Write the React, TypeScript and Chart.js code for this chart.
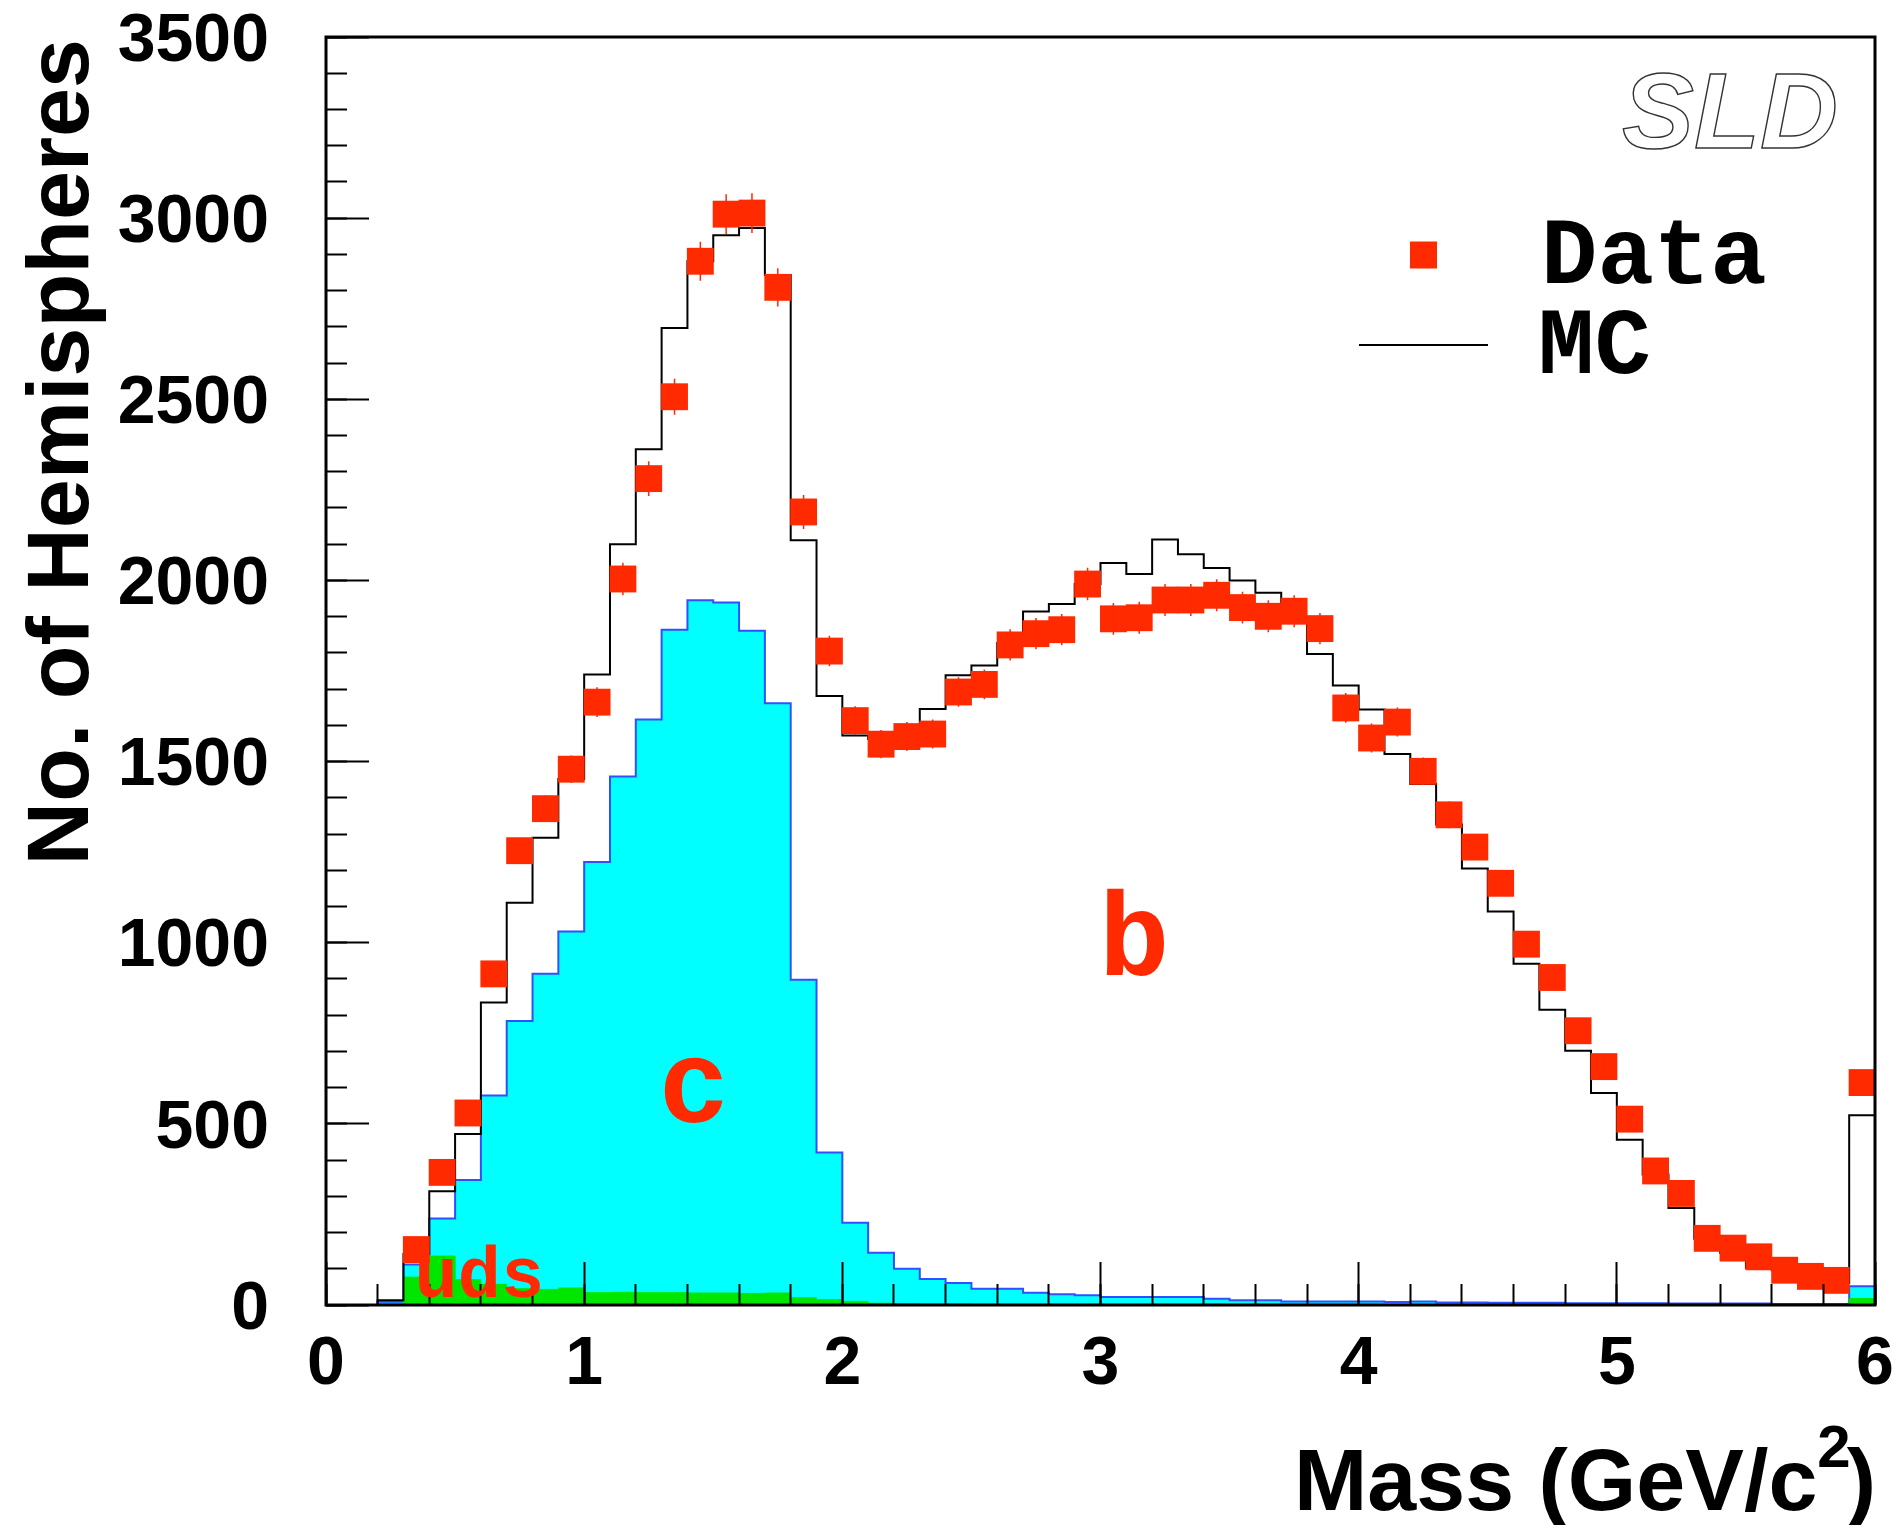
import React, { useEffect, useRef } from 'react';
import { Chart, registerables } from 'chart.js';

Chart.register(...registerables);

// ---------- data ----------
// histogram bin edges (GeV/c^2), 60 bins of 0.1
const binEdges = [
  0.0, 0.1, 0.2, 0.3, 0.4, 0.5, 0.6, 0.7, 0.8, 0.9,
  1.0, 1.1, 1.2, 1.3, 1.4, 1.5, 1.6, 1.7, 1.8, 1.9,
  2.0, 2.1, 2.2, 2.3, 2.4, 2.5, 2.6, 2.7, 2.8, 2.9,
  3.0, 3.1, 3.2, 3.3, 3.4, 3.5, 3.6, 3.7, 3.8, 3.9,
  4.0, 4.1, 4.2, 4.3, 4.4, 4.5, 4.6, 4.7, 4.8, 4.9,
  5.0, 5.1, 5.2, 5.3, 5.4, 5.5, 5.6, 5.7, 5.8, 5.9,
  6.0,
];

// MC total (b + c + uds)
const mcTotal = [
  0, 0, 13, 141, 314, 472, 835, 1110, 1290, 1452,
  1740, 2100, 2362, 2697, 2881, 2953, 2973, 2843, 2111, 1681,
  1572, 1562, 1562, 1645, 1738, 1765, 1827, 1914, 1935, 1990,
  2048, 2018, 2113, 2072, 2034, 2000, 1966, 1894, 1797, 1710,
  1644, 1521, 1438, 1326, 1205, 1086, 942, 815, 702, 585,
  456, 360, 268, 183, 144, 103, 96, 72, 61, 524,
];

// MC c + uds
const mcCharmUds = [
  0, 0, 9, 112, 239, 345, 578, 784, 914, 1031,
  1223, 1459, 1616, 1864, 1945, 1939, 1861, 1661, 898, 421,
  227, 144, 100, 72, 61, 45, 45, 34, 30, 27,
  22, 22, 22, 22, 17, 13, 13, 10, 10, 10,
  10, 8, 10, 7, 7, 6, 6, 6, 5, 5,
  5, 5, 4, 4, 4, 4, 3, 3, 3, 52,
];

// MC uds
const mcUds = [
  0, 0, 3, 77, 135, 70, 57, 45, 43, 47,
  34, 35, 34, 34, 33, 33, 32, 33, 20, 15,
  10, 5, 4, 3, 3, 2, 2, 2, 2, 2,
  2, 2, 2, 2, 2, 2, 2, 2, 2, 2,
  1, 1, 1, 1, 1, 1, 1, 1, 1, 1,
  1, 1, 1, 1, 1, 1, 1, 1, 1, 18,
];

// Data points (bin centres)
const dataMass = [
  0.35, 0.45, 0.55, 0.65, 0.75, 0.85, 0.95, 1.05, 1.15, 1.25,
  1.35, 1.45, 1.55, 1.65, 1.75, 1.85, 1.95, 2.05, 2.15, 2.25,
  2.35, 2.45, 2.55, 2.65, 2.75, 2.85, 2.95, 3.05, 3.15, 3.25,
  3.35, 3.45, 3.55, 3.65, 3.75, 3.85, 3.95, 4.05, 4.15, 4.25,
  4.35, 4.45, 4.55, 4.65, 4.75, 4.85, 4.95, 5.05, 5.15, 5.25,
  5.35, 5.45, 5.55, 5.65, 5.75, 5.85, 5.95,
];
const dataCounts = [
  153, 366, 530, 914, 1254, 1370, 1479, 1664, 2004, 2281,
  2507, 2881, 3011, 3014, 2809, 2189, 1805, 1613, 1548, 1569,
  1576, 1692, 1713, 1822, 1853, 1864, 1990, 1894, 1897, 1946,
  1946, 1959, 1925, 1901, 1915, 1867, 1648, 1565, 1609, 1473,
  1353, 1264, 1164, 996, 904, 757, 658, 513, 370, 308,
  184, 157, 133, 96, 79, 68, 614,
];
const dataErrors = [
  12, 19, 23, 30, 35, 37, 38, 41, 45, 48,
  50, 54, 55, 55, 53, 47, 42, 40, 39, 40,
  40, 41, 41, 43, 43, 43, 45, 44, 44, 44,
  44, 44, 44, 44, 44, 43, 41, 40, 40, 38,
  37, 36, 34, 32, 30, 28, 26, 23, 19, 18,
  14, 13, 12, 10, 9, 8, 25,
];

// axis ticks
const xMajorTicks = [0, 1, 2, 3, 4, 5, 6];
const yMajorTicks = [0, 500, 1000, 1500, 2000, 2500, 3000, 3500];

// texts
const xTitleMain = 'Mass (GeV/c';
const xTitleSup = '2';
const xTitleEnd = ')';
const yTitle = 'No. of Hemispheres';
const legendLabels = ['Data', 'MC'];
const regionLabels = ['c', 'b', 'uds'];
const regionLabelMass = [1.425, 3.13, 0.343];
const regionLabelCount = [505, 911, 22];
const logoText = 'SLD';

// ---------- style ----------
const SANS = '"Liberation Sans", Arial, Helvetica, sans-serif';
const MONO = '"Liberation Mono", "Courier New", monospace';
const RED = '#ff2a00';
const CYAN = '#00ffff';
const BLUE = '#3050ff';
const GREEN = '#00e600';

const noPad = (s: any) => {
  s.paddingLeft = 0;
  s.paddingRight = 0;
  s.paddingTop = 0;
  s.paddingBottom = 0;
};

export default function App() {
  const ref = useRef<HTMLCanvasElement>(null);

  useEffect(() => {
    const canvas = ref.current;
    if (!canvas) return;

    const hist = (vals: number[]) =>
      binEdges.map((e, i) => ({ x: e, y: i < vals.length ? vals[i] : 0 }));

    const decor = {
      id: 'decor',
      beforeDraw(chart: any) {
        const { ctx, width, height } = chart;
        ctx.save();
        ctx.fillStyle = '#ffffff';
        ctx.fillRect(0, 0, width, height);
        ctx.restore();
      },
      afterDatasetsDraw(chart: any) {
        const { ctx, scales } = chart;
        const xs = scales.x;
        const ys = scales.y;
        ctx.save();
        ctx.strokeStyle = RED;
        ctx.lineWidth = 1.5;
        ctx.beginPath();
        dataMass.forEach((m, i) => {
          const px = xs.getPixelForValue(m);
          ctx.moveTo(px, ys.getPixelForValue(dataCounts[i] - dataErrors[i]));
          ctx.lineTo(px, ys.getPixelForValue(dataCounts[i] + dataErrors[i]));
        });
        ctx.stroke();
        ctx.restore();
      },
      afterDraw(chart: any) {
        const { ctx, chartArea: a, scales } = chart;
        const xs = scales.x;
        const ys = scales.y;
        ctx.save();

        // frame
        ctx.strokeStyle = '#000';
        ctx.lineWidth = 3;
        ctx.strokeRect(a.left, a.top, a.right - a.left, a.bottom - a.top);

        // region labels
        ctx.fillStyle = RED;
        ctx.textBaseline = 'alphabetic';
        regionLabels.forEach((t, i) => {
          const big = t.length === 1;
          ctx.font = `bold ${big ? 118 : 72}px ${MONO}`;
          ctx.textAlign = big ? 'center' : 'left';
          ctx.fillText(t, xs.getPixelForValue(regionLabelMass[i]), ys.getPixelForValue(regionLabelCount[i]));
        });

        // legend
        ctx.fillStyle = RED;
        ctx.fillRect(1410, 241.5, 27, 27);
        ctx.strokeStyle = '#000';
        ctx.lineWidth = 2;
        ctx.beginPath();
        ctx.moveTo(1359, 345);
        ctx.lineTo(1488, 345);
        ctx.stroke();
        ctx.fillStyle = '#000';
        ctx.font = `bold 94px ${MONO}`;
        ctx.textAlign = 'left';
        ctx.fillText(legendLabels[0], 1541, 283);
        ctx.fillText(legendLabels[1], 1538, 373);

        // SLD logo (outlined)
        ctx.font = `italic bold 108px ${SANS}`;
        ctx.strokeStyle = '#333';
        ctx.lineWidth = 1.4;
        ctx.textAlign = 'left';
        ctx.strokeText(logoText, 1622, 148);

        // y title
        ctx.save();
        ctx.fillStyle = '#000';
        ctx.font = `bold 88px ${SANS}`;
        ctx.translate(88, 39);
        ctx.rotate(-Math.PI / 2);
        ctx.textAlign = 'right';
        ctx.fillText(yTitle, 0, 0);
        ctx.restore();

        // x title with superscript
        ctx.fillStyle = '#000';
        ctx.textAlign = 'left';
        ctx.font = `bold 88px ${SANS}`;
        const wMain = ctx.measureText(xTitleMain).width;
        const wEnd = ctx.measureText(xTitleEnd).width;
        ctx.font = `bold 60px ${SANS}`;
        const wSup = ctx.measureText(xTitleSup).width;
        const right = 1876;
        const x0 = right - wMain - wSup - wEnd + 4;
        const base = 1510;
        ctx.font = `bold 88px ${SANS}`;
        ctx.fillText(xTitleMain, x0, base);
        ctx.fillText(xTitleEnd, x0 + wMain + wSup - 4, base);
        ctx.font = `bold 60px ${SANS}`;
        ctx.fillText(xTitleSup, x0 + wMain, base - 43);

        ctx.restore();
      },
    };

    const tickFont = { family: SANS, size: 68, weight: 'bold' as const };

    const chart = new Chart(canvas, {
      type: 'line',
      data: {
        datasets: [
          {
            label: 'Data',
            data: dataMass.map((m, i) => ({ x: m, y: dataCounts[i] })),
            showLine: false,
            pointStyle: 'rect',
            pointRadius: 19,
            pointBorderWidth: 0,
            pointBackgroundColor: RED,
            pointBorderColor: RED,
            borderColor: RED,
            backgroundColor: RED,
          },
          {
            label: 'MC',
            data: hist(mcTotal),
            stepped: 'before',
            borderColor: '#000',
            borderWidth: 2,
            pointRadius: 0,
            fill: false,
          },
          {
            label: 'uds',
            data: hist(mcUds),
            stepped: 'before',
            borderColor: GREEN,
            borderWidth: 1,
            backgroundColor: GREEN,
            pointRadius: 0,
            fill: 'origin',
          },
          {
            label: 'c',
            data: hist(mcCharmUds),
            stepped: 'before',
            borderColor: BLUE,
            borderWidth: 2,
            backgroundColor: CYAN,
            pointRadius: 0,
            fill: 'origin',
          },
        ],
      },
      options: {
        animation: false,
        responsive: false,
        devicePixelRatio: 1,
        events: [],
        layout: { padding: { left: 0, top: 37, right: 23, bottom: 0 } },
        plugins: {
          legend: { display: false },
          tooltip: { enabled: false },
        },
        scales: {
          xMinor: {
            type: 'linear',
            position: 'bottom',
            min: 0,
            max: 6,
            weight: 0,
            ticks: { display: false, stepSize: 0.2 },
            grid: { display: true, drawOnChartArea: false, drawTicks: true, tickLength: -21, tickWidth: 2, tickColor: '#000', z: 1 },
            border: { display: false },
            afterFit: (s: any) => { s.height = 0; noPad(s); },
          },
          x: {
            type: 'linear',
            position: 'bottom',
            min: 0,
            max: 6,
            weight: 1,
            afterBuildTicks: (s: any) => { s.ticks = xMajorTicks.map((v) => ({ value: v })); },
            ticks: { font: tickFont, color: '#000', padding: 62, maxRotation: 0, autoSkip: false, callback: (v: any) => String(v) },
            grid: { display: true, drawOnChartArea: false, drawTicks: true, tickLength: -43, tickWidth: 2, tickColor: '#000', z: 1 },
            border: { display: false },
            afterFit: (s: any) => { s.height = 220; noPad(s); },
          },
          yMinor: {
            type: 'linear',
            position: 'left',
            min: 0,
            max: 3500,
            weight: 0,
            ticks: { display: false, stepSize: 100 },
            grid: { display: true, drawOnChartArea: false, drawTicks: true, tickLength: -21, tickWidth: 2, tickColor: '#000', z: 1 },
            border: { display: false },
            afterFit: (s: any) => { s.width = 0; noPad(s); },
          },
          y: {
            type: 'linear',
            position: 'left',
            min: 0,
            max: 3500,
            weight: 1,
            afterBuildTicks: (s: any) => { s.ticks = yMajorTicks.map((v) => ({ value: v })); },
            ticks: { font: tickFont, color: '#000', padding: 100, labelOffset: 5, autoSkip: false, callback: (v: any) => String(v) },
            grid: { display: true, drawOnChartArea: false, drawTicks: true, tickLength: -43, tickWidth: 2, tickColor: '#000', z: 1 },
            border: { display: false },
            afterFit: (s: any) => { s.width = 326; noPad(s); },
          },
        },
      } as any,
      plugins: [decor],
    });

    return () => chart.destroy();
  }, []);

  return (
    <div style={{ position: 'absolute', left: 0, top: 0, width: 1898, height: 1525 }}>
      <canvas ref={ref} width={1898} height={1525} style={{ display: 'block', width: 1898, height: 1525 }} />
    </div>
  );
}
